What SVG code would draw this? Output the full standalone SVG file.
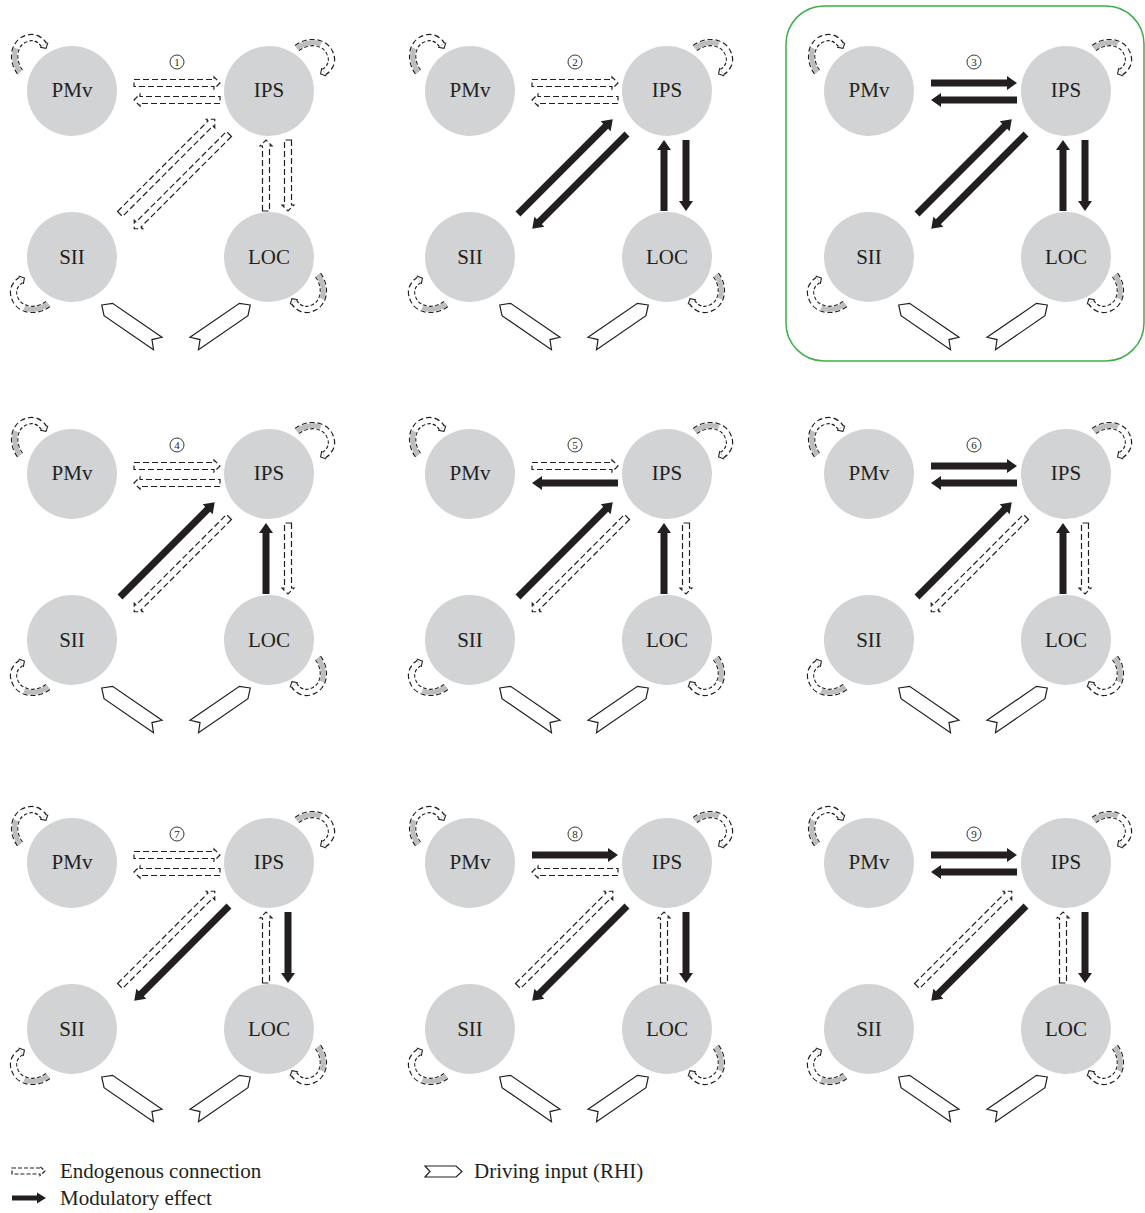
<svg xmlns="http://www.w3.org/2000/svg" xmlns:xlink="http://www.w3.org/1999/xlink" width="1145" height="1213" viewBox="0 0 1145 1213">
<style>
.node{fill:#d1d3d4}
.lbl{font-family:"Liberation Serif",serif;font-size:21px;fill:#231f20;text-anchor:middle}
.num{font-family:"Liberation Serif",serif;font-size:11px;fill:#231f20;text-anchor:middle}
.numc{fill:none;stroke:#231f20;stroke-width:0.9}
.sol{fill:#231f20}
.dsh{fill:#fff;stroke:#231f20;stroke-width:1.2;stroke-dasharray:6 3}
.inp{fill:#fff;stroke:#231f20;stroke-width:1.2}
.lb{fill:none;stroke:#231f20;stroke-width:7.4;stroke-dasharray:4.5 2.5}
.lw{fill:none;stroke:#fff;stroke-width:5}
.lg{fill:none;stroke:#bbbdbf;stroke-width:5}
.lh{fill:none;stroke:#231f20;stroke-width:1.1}
.leg{font-family:"Liberation Serif",serif;font-size:21px;fill:#231f20}
.box{fill:none;stroke:#3fae49;stroke-width:1.5}
</style>
<defs>
<path id="sH" d="M0,-3.5H76V-7L86,0L76,7V3.5H0Z"/>
<path id="dH" d="M0,-3.5H80V-6L86,0L80,6V3.5H0Z"/>
<path id="sV" d="M0,-3.5H61V-7L71,0L61,7V3.5H0Z"/>
<path id="dV" d="M0,-3.5H65V-6L71,0L65,6V3.5H0Z"/>
<path id="sD" d="M0,-3.5H124V-7L134,0L124,7V3.5H0Z"/>
<path id="dD" d="M0,-3.5H128V-6L134,0L128,6V3.5H0Z"/>
<path id="inp" d="M0,0L8,-7.5L68,-7.5L61,0L68,7.5L8,7.5Z"/>
<g id="loop">
<path class="lb" d="M0,0C-9,-12 -7,-30 8,-34C15,-36 21,-32 24,-27"/>
<path class="lw" d="M0,0C-9,-12 -7,-30 8,-34C15,-36 21,-32 24,-27"/>
<path class="lg" d="M0,0C-5.4,-7.2 -6.84,-16.56 -3.89,-23.76"/>
<path class="lh" d="M20.1,-24.7L26,-23.6L27.9,-29.3"/>
</g>
<g id="loops">
<use href="#loop" transform="translate(20,72)"/>
<use href="#loop" transform="translate(297,48) rotate(90)"/>
<use href="#loop" transform="translate(318,275) rotate(180)"/>
<use href="#loop" transform="translate(48,304) rotate(270)"/>
</g>
<g id="inputs">
<use href="#inp" class="inp" transform="translate(101.7,305) rotate(34.5)"/>
<use href="#inp" class="inp" transform="translate(250.3,305) scale(-1,1) rotate(34.5)"/>
</g>
</defs>

<rect class="box" x="786" y="6" width="358" height="355" rx="38"/>

<!-- Panel 1 -->
<g id="panel1">
<g id="p1-PMv"><circle class="node" cx="72" cy="91" r="45"/><text class="lbl" x="72" y="97">PMv</text></g>
<g id="p1-IPS"><circle class="node" cx="269" cy="91" r="45"/><text class="lbl" x="269" y="97">IPS</text></g>
<g id="p1-SII"><circle class="node" cx="72" cy="257" r="45"/><text class="lbl" x="72" y="263.5">SII</text></g>
<g id="p1-LOC"><circle class="node" cx="269" cy="257" r="45"/><text class="lbl" x="269" y="263.5">LOC</text></g>
<g id="p1-connectors">
<circle class="numc" cx="177" cy="62" r="7"/><text class="num" x="177" y="66">1</text>
<use href="#dH" class="dsh" transform="translate(134,83)"/>
<use href="#dH" class="dsh" transform="translate(220,100) rotate(180)"/>
<use href="#dD" class="dsh" transform="translate(120,214) rotate(-45)"/>
<use href="#dD" class="dsh" transform="translate(229,134) rotate(135)"/>
<use href="#dV" class="dsh" transform="translate(266,211) rotate(-90)"/>
<use href="#dV" class="dsh" transform="translate(288,140) rotate(90)"/>
<use href="#loops"/><use href="#inputs"/>
</g>
</g>

<!-- Panel 2 -->
<g id="panel2" transform="translate(398,0)">
<g id="p2-PMv"><circle class="node" cx="72" cy="91" r="45"/><text class="lbl" x="72" y="97">PMv</text></g>
<g id="p2-IPS"><circle class="node" cx="269" cy="91" r="45"/><text class="lbl" x="269" y="97">IPS</text></g>
<g id="p2-SII"><circle class="node" cx="72" cy="257" r="45"/><text class="lbl" x="72" y="263.5">SII</text></g>
<g id="p2-LOC"><circle class="node" cx="269" cy="257" r="45"/><text class="lbl" x="269" y="263.5">LOC</text></g>
<g id="p2-connectors">
<circle class="numc" cx="177" cy="62" r="7"/><text class="num" x="177" y="66">2</text>
<use href="#dH" class="dsh" transform="translate(134,83)"/>
<use href="#dH" class="dsh" transform="translate(220,100) rotate(180)"/>
<use href="#sD" class="sol" transform="translate(120,214) rotate(-45)"/>
<use href="#sD" class="sol" transform="translate(229,134) rotate(135)"/>
<use href="#sV" class="sol" transform="translate(266,211) rotate(-90)"/>
<use href="#sV" class="sol" transform="translate(288,140) rotate(90)"/>
<use href="#loops"/><use href="#inputs"/>
</g>
</g>

<!-- Panel 3 -->
<g id="panel3" transform="translate(797,0)">
<g id="p3-PMv"><circle class="node" cx="72" cy="91" r="45"/><text class="lbl" x="72" y="97">PMv</text></g>
<g id="p3-IPS"><circle class="node" cx="269" cy="91" r="45"/><text class="lbl" x="269" y="97">IPS</text></g>
<g id="p3-SII"><circle class="node" cx="72" cy="257" r="45"/><text class="lbl" x="72" y="263.5">SII</text></g>
<g id="p3-LOC"><circle class="node" cx="269" cy="257" r="45"/><text class="lbl" x="269" y="263.5">LOC</text></g>
<g id="p3-connectors">
<circle class="numc" cx="177" cy="62" r="7"/><text class="num" x="177" y="66">3</text>
<use href="#sH" class="sol" transform="translate(134,83)"/>
<use href="#sH" class="sol" transform="translate(220,100) rotate(180)"/>
<use href="#sD" class="sol" transform="translate(120,214) rotate(-45)"/>
<use href="#sD" class="sol" transform="translate(229,134) rotate(135)"/>
<use href="#sV" class="sol" transform="translate(266,211) rotate(-90)"/>
<use href="#sV" class="sol" transform="translate(288,140) rotate(90)"/>
<use href="#loops"/><use href="#inputs"/>
</g>
</g>

<!-- Panel 4 -->
<g id="panel4" transform="translate(0,383)">
<g id="p4-PMv"><circle class="node" cx="72" cy="91" r="45"/><text class="lbl" x="72" y="97">PMv</text></g>
<g id="p4-IPS"><circle class="node" cx="269" cy="91" r="45"/><text class="lbl" x="269" y="97">IPS</text></g>
<g id="p4-SII"><circle class="node" cx="72" cy="257" r="45"/><text class="lbl" x="72" y="263.5">SII</text></g>
<g id="p4-LOC"><circle class="node" cx="269" cy="257" r="45"/><text class="lbl" x="269" y="263.5">LOC</text></g>
<g id="p4-connectors">
<circle class="numc" cx="177" cy="62" r="7"/><text class="num" x="177" y="66">4</text>
<use href="#dH" class="dsh" transform="translate(134,83)"/>
<use href="#dH" class="dsh" transform="translate(220,100) rotate(180)"/>
<use href="#sD" class="sol" transform="translate(120,214) rotate(-45)"/>
<use href="#dD" class="dsh" transform="translate(229,134) rotate(135)"/>
<use href="#sV" class="sol" transform="translate(266,211) rotate(-90)"/>
<use href="#dV" class="dsh" transform="translate(288,140) rotate(90)"/>
<use href="#loops"/><use href="#inputs"/>
</g>
</g>

<!-- Panel 5 -->
<g id="panel5" transform="translate(398,383)">
<g id="p5-PMv"><circle class="node" cx="72" cy="91" r="45"/><text class="lbl" x="72" y="97">PMv</text></g>
<g id="p5-IPS"><circle class="node" cx="269" cy="91" r="45"/><text class="lbl" x="269" y="97">IPS</text></g>
<g id="p5-SII"><circle class="node" cx="72" cy="257" r="45"/><text class="lbl" x="72" y="263.5">SII</text></g>
<g id="p5-LOC"><circle class="node" cx="269" cy="257" r="45"/><text class="lbl" x="269" y="263.5">LOC</text></g>
<g id="p5-connectors">
<circle class="numc" cx="177" cy="62" r="7"/><text class="num" x="177" y="66">5</text>
<use href="#dH" class="dsh" transform="translate(134,83)"/>
<use href="#sH" class="sol" transform="translate(220,100) rotate(180)"/>
<use href="#sD" class="sol" transform="translate(120,214) rotate(-45)"/>
<use href="#dD" class="dsh" transform="translate(229,134) rotate(135)"/>
<use href="#sV" class="sol" transform="translate(266,211) rotate(-90)"/>
<use href="#dV" class="dsh" transform="translate(288,140) rotate(90)"/>
<use href="#loops"/><use href="#inputs"/>
</g>
</g>

<!-- Panel 6 -->
<g id="panel6" transform="translate(797,383)">
<g id="p6-PMv"><circle class="node" cx="72" cy="91" r="45"/><text class="lbl" x="72" y="97">PMv</text></g>
<g id="p6-IPS"><circle class="node" cx="269" cy="91" r="45"/><text class="lbl" x="269" y="97">IPS</text></g>
<g id="p6-SII"><circle class="node" cx="72" cy="257" r="45"/><text class="lbl" x="72" y="263.5">SII</text></g>
<g id="p6-LOC"><circle class="node" cx="269" cy="257" r="45"/><text class="lbl" x="269" y="263.5">LOC</text></g>
<g id="p6-connectors">
<circle class="numc" cx="177" cy="62" r="7"/><text class="num" x="177" y="66">6</text>
<use href="#sH" class="sol" transform="translate(134,83)"/>
<use href="#sH" class="sol" transform="translate(220,100) rotate(180)"/>
<use href="#sD" class="sol" transform="translate(120,214) rotate(-45)"/>
<use href="#dD" class="dsh" transform="translate(229,134) rotate(135)"/>
<use href="#sV" class="sol" transform="translate(266,211) rotate(-90)"/>
<use href="#dV" class="dsh" transform="translate(288,140) rotate(90)"/>
<use href="#loops"/><use href="#inputs"/>
</g>
</g>

<!-- Panel 7 -->
<g id="panel7" transform="translate(0,772)">
<g id="p7-PMv"><circle class="node" cx="72" cy="91" r="45"/><text class="lbl" x="72" y="97">PMv</text></g>
<g id="p7-IPS"><circle class="node" cx="269" cy="91" r="45"/><text class="lbl" x="269" y="97">IPS</text></g>
<g id="p7-SII"><circle class="node" cx="72" cy="257" r="45"/><text class="lbl" x="72" y="263.5">SII</text></g>
<g id="p7-LOC"><circle class="node" cx="269" cy="257" r="45"/><text class="lbl" x="269" y="263.5">LOC</text></g>
<g id="p7-connectors">
<circle class="numc" cx="177" cy="62" r="7"/><text class="num" x="177" y="66">7</text>
<use href="#dH" class="dsh" transform="translate(134,83)"/>
<use href="#dH" class="dsh" transform="translate(220,100) rotate(180)"/>
<use href="#dD" class="dsh" transform="translate(120,214) rotate(-45)"/>
<use href="#sD" class="sol" transform="translate(229,134) rotate(135)"/>
<use href="#dV" class="dsh" transform="translate(266,211) rotate(-90)"/>
<use href="#sV" class="sol" transform="translate(288,140) rotate(90)"/>
<use href="#loops"/><use href="#inputs"/>
</g>
</g>

<!-- Panel 8 -->
<g id="panel8" transform="translate(398,772)">
<g id="p8-PMv"><circle class="node" cx="72" cy="91" r="45"/><text class="lbl" x="72" y="97">PMv</text></g>
<g id="p8-IPS"><circle class="node" cx="269" cy="91" r="45"/><text class="lbl" x="269" y="97">IPS</text></g>
<g id="p8-SII"><circle class="node" cx="72" cy="257" r="45"/><text class="lbl" x="72" y="263.5">SII</text></g>
<g id="p8-LOC"><circle class="node" cx="269" cy="257" r="45"/><text class="lbl" x="269" y="263.5">LOC</text></g>
<g id="p8-connectors">
<circle class="numc" cx="177" cy="62" r="7"/><text class="num" x="177" y="66">8</text>
<use href="#sH" class="sol" transform="translate(134,83)"/>
<use href="#dH" class="dsh" transform="translate(220,100) rotate(180)"/>
<use href="#dD" class="dsh" transform="translate(120,214) rotate(-45)"/>
<use href="#sD" class="sol" transform="translate(229,134) rotate(135)"/>
<use href="#dV" class="dsh" transform="translate(266,211) rotate(-90)"/>
<use href="#sV" class="sol" transform="translate(288,140) rotate(90)"/>
<use href="#loops"/><use href="#inputs"/>
</g>
</g>

<!-- Panel 9 -->
<g id="panel9" transform="translate(797,772)">
<g id="p9-PMv"><circle class="node" cx="72" cy="91" r="45"/><text class="lbl" x="72" y="97">PMv</text></g>
<g id="p9-IPS"><circle class="node" cx="269" cy="91" r="45"/><text class="lbl" x="269" y="97">IPS</text></g>
<g id="p9-SII"><circle class="node" cx="72" cy="257" r="45"/><text class="lbl" x="72" y="263.5">SII</text></g>
<g id="p9-LOC"><circle class="node" cx="269" cy="257" r="45"/><text class="lbl" x="269" y="263.5">LOC</text></g>
<g id="p9-connectors">
<circle class="numc" cx="177" cy="62" r="7"/><text class="num" x="177" y="66">9</text>
<use href="#sH" class="sol" transform="translate(134,83)"/>
<use href="#sH" class="sol" transform="translate(220,100) rotate(180)"/>
<use href="#dD" class="dsh" transform="translate(120,214) rotate(-45)"/>
<use href="#sD" class="sol" transform="translate(229,134) rotate(135)"/>
<use href="#dV" class="dsh" transform="translate(266,211) rotate(-90)"/>
<use href="#sV" class="sol" transform="translate(288,140) rotate(90)"/>
<use href="#loops"/><use href="#inputs"/>
</g>
</g>

<!-- Legend -->
<g id="legend">
<path class="dsh" d="M12,1168H40V1166.5L45,1171L40,1175.5V1174H12Z" style="stroke-dasharray:4 2"/>
<text class="leg" x="60" y="1178">Endogenous connection</text>
<path class="sol" d="M12,1195.5H37V1192.5L46,1198L37,1203.5V1200.5H12Z"/>
<text class="leg" x="60" y="1205">Modulatory effect</text>
<path class="inp" d="M425,1166H456L462,1171.5L456,1177H425L430,1171.5Z"/>
<text class="leg" x="474" y="1178">Driving input (RHI)</text>
</g>
</svg>
